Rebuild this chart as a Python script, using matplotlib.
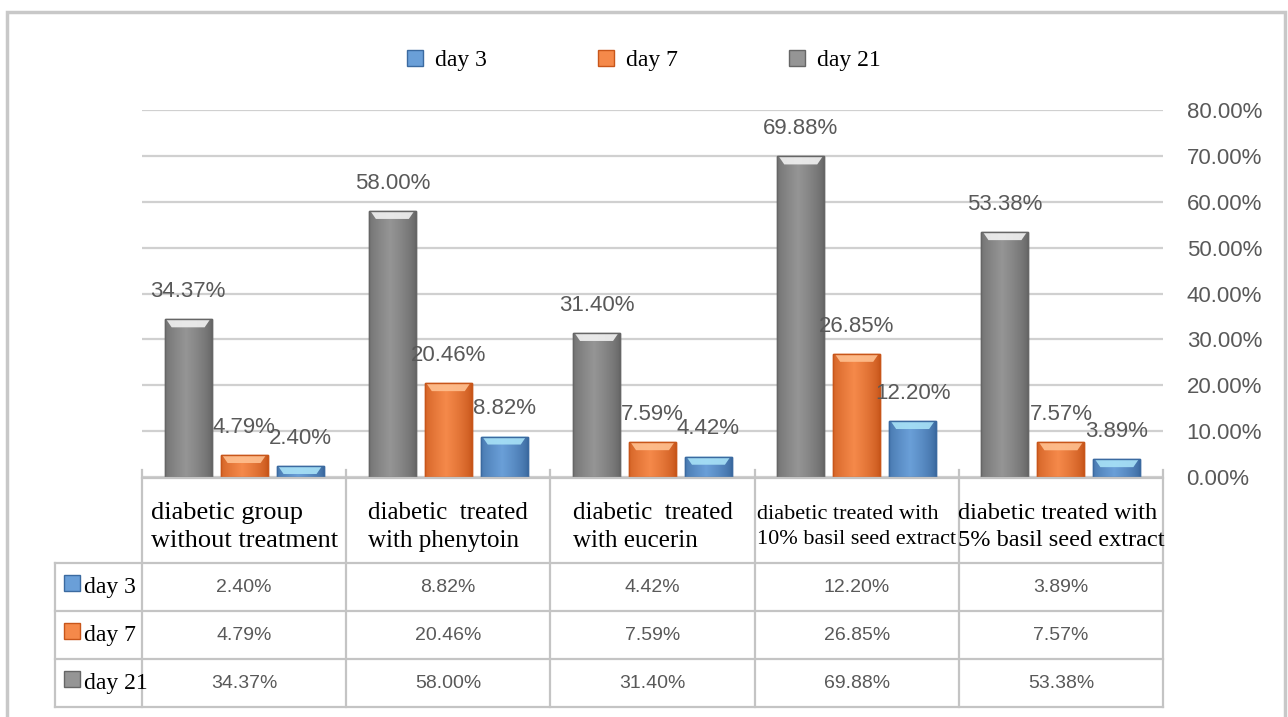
import numpy as np
import matplotlib.pyplot as plt
from matplotlib.patches import Rectangle, Polygon
from matplotlib.colors import to_rgb
from matplotlib.lines import Line2D

groups = ['diabetic group\nwithout treatment',
          'diabetic  treated\nwith phenytoin',
          'diabetic  treated\nwith eucerin',
          'diabetic treated with\n10% basil seed extract',
          'diabetic treated with\n5% basil seed extract']
series = ['day 3', 'day 7', 'day 21']
day3 = [0.0240, 0.0882, 0.0442, 0.1220, 0.0389]
day7 = [0.0479, 0.2046, 0.0759, 0.2685, 0.0757]
day21 = [0.3437, 0.5800, 0.3140, 0.6988, 0.5338]
yticks = [0, 0.1, 0.2, 0.3, 0.4, 0.5, 0.6, 0.7, 0.8]

# colours: (edge/dark, centre/light, top highlight)
cols = {'day 3': ('#3b6aa0', '#6a9fd8', '#a8e2f7'),
        'day 7': ('#c8561a', '#f5894a', '#ffc090'),
        'day 21': ('#666666', '#959595', '#f2f2f2')}
txt = '#595959'
W, H = 1288, 717

fig = plt.figure(figsize=(W / 100, H / 100), dpi=100)

# outer frame
fig.add_artist(Rectangle((7 / W, -0.02), (1285 - 7) / W, (H - 12) / H + 0.02,
                         transform=fig.transFigure, fill=False,
                         ec='#c8c8c8', lw=2.5))

ax = fig.add_axes([142 / W, 1 - 477 / H, (1163 - 142) / W, (477 - 110) / H])
ax.set_xlim(-0.5, 4.5)
ax.set_ylim(0, 0.8)
for s in ax.spines.values():
    s.set_visible(False)
ax.set_xticks([])
ax.yaxis.tick_right()
ax.set_yticks(yticks)
ax.set_yticklabels([f'{t:.2%}' for t in yticks], fontsize=16,
                   family='Liberation Sans', color=txt)
ax.tick_params(axis='y', length=0, pad=17)
ax.grid(axis='y', color='#d0d0d0', lw=1.6)
ax.set_axisbelow(True)

x = np.arange(len(groups))
order = [('day 21', day21, -0.274), ('day 7', day7, 0.0), ('day 3', day3, 0.274)]
px_per_y = (477 - 110) / 0.8
px_per_x = (1163 - 142) / 5.0
for name, vals, off in order:
    dark, light, top = cols[name]
    bars = ax.bar(x + off, vals, width=0.23, color=light, ec=dark, lw=1, zorder=2)
    grad = np.linspace(0, 1, 64)
    prof = 1 - np.abs(grad - 0.45) / 0.55
    prof = np.clip(prof, 0, 1) ** 0.7
    c0, c1 = np.array(to_rgb(dark)), np.array(to_rgb(light))
    img = (c0[None, :] + (c1 - c0)[None, :] * prof[:, None])[None, :, :]
    for b, v in zip(bars, vals):
        x0, w = b.get_x(), b.get_width()
        im = ax.imshow(img, extent=[x0, x0 + w, 0, v], aspect='auto',
                       zorder=2.1, interpolation='bilinear')
        im.set_clip_path(b)
        t = 8 / px_per_y
        d = 7 / px_per_x
        ax.add_patch(Polygon([(x0 + 1.5 / px_per_x, v), (x0 + w - 1.5 / px_per_x, v),
                              (x0 + w - d, v - t), (x0 + d, v - t)],
                             closed=True, fc=top, ec='none', alpha=0.9, zorder=2.2))
        ax.add_patch(Rectangle((x0, 0), w, v, fill=False, ec=dark, lw=1, zorder=2.3))
        ax.annotate(f'{v:.2%}', (b.get_x() + w / 2, v), xytext=(0, 20),
                    textcoords='offset points', ha='center', va='center',
                    fontsize=16, family='Liberation Sans', color=txt, zorder=3)
ax.set_xlim(-0.5, 4.5)
ax.set_ylim(0, 0.8)

# data table under the chart
tab = fig.add_axes([142 / W, 1 - 707 / H, (1163 - 142) / W, (707 - 478) / H])
tab.set_xlim(-0.5, 4.5)
tab.set_ylim(707, 478)
tab.axis('off')
lc = '#c4c4c4'
xl = -0.5 - 87 / px_per_x
rows = [478, 563, 611, 659, 707]
tab.plot([-0.5, 4.5], [478, 478], color=lc, lw=1.6, clip_on=False)
for r in rows[1:]:
    tab.plot([xl, 4.5], [r, r], color=lc, lw=1.6, clip_on=False)
tab.plot([xl, xl], [563, 707], color=lc, lw=1.6, clip_on=False)
for xb in np.arange(-0.5, 5.0, 1.0):
    tab.plot([xb, xb], [470, 707], color=lc, lw=1.6, clip_on=False)

hsize = [19, 18, 18, 16, 17.5]
for i, g in enumerate(groups):
    tab.text(i, 527, g, ha='center', va='center', multialignment='left',
             fontsize=hsize[i], family='Liberation Serif', color='black',
             linespacing=1.4)

for j, (name, vals) in enumerate(zip(series, [day3, day7, day21])):
    yc = (rows[j + 1] + rows[j + 2]) / 2
    tab.plot([xl + 16.5 / px_per_x], [yc - 4], marker='s', ms=11.5,
             color=cols[name][1], mec=cols[name][0], clip_on=False)
    tab.text(xl + 29 / px_per_x, yc, name, ha='left', va='center', fontsize=17,
             family='Liberation Serif', color='black', clip_on=False)
    for i, v in enumerate(vals):
        tab.text(i, yc, f'{v:.2%}', ha='center', va='center', fontsize=14,
                 family='Liberation Sans', color=txt)

handles = [Line2D([], [], ls='none', marker='s', ms=12, color=cols[n][1],
                  mec=cols[n][0]) for n in series]
fig.legend(handles, series, loc='center', bbox_to_anchor=(644 / W, 1 - 60 / H),
           ncol=3, frameon=False, prop={'family': 'Liberation Serif', 'size': 17},
           handlelength=0.7, handletextpad=0.5, columnspacing=4.7)

plt.savefig('out.png', dpi=100)
